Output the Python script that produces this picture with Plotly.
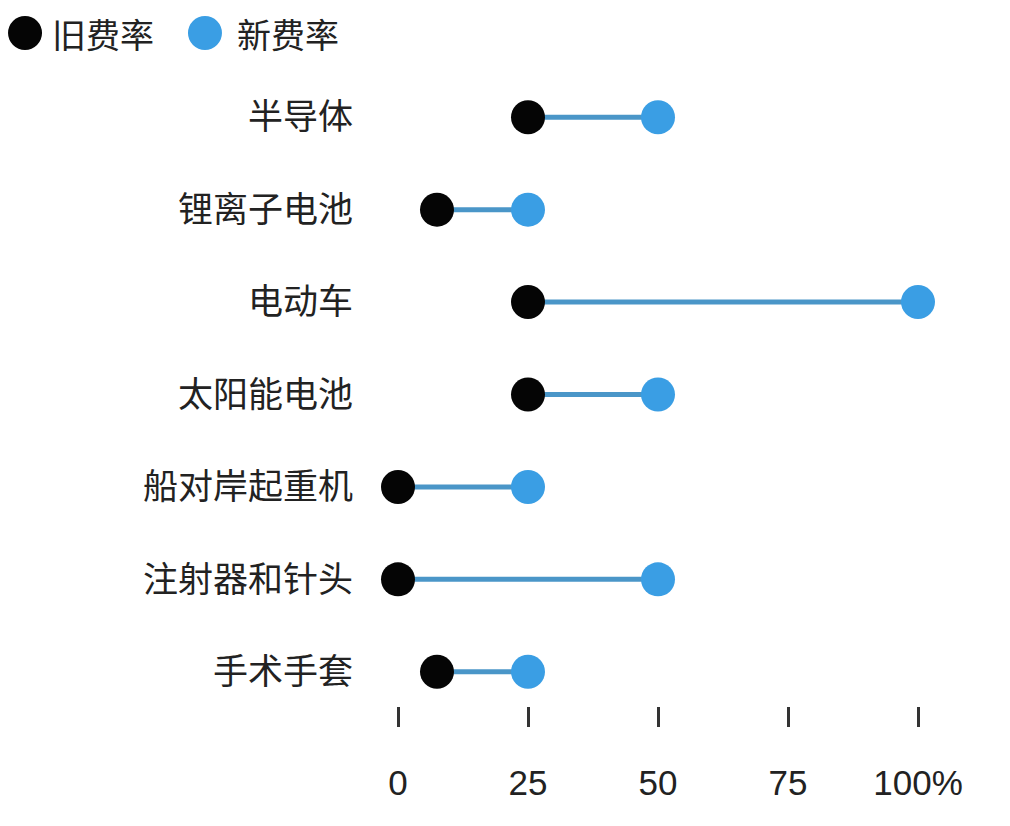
import plotly.graph_objects as go

# rows, top to bottom
categories = ["半导体", "锂离子电池", "电动车", "太阳能电池", "船对岸起重机", "注射器和针头", "手术手套"]
old_rate = [25, 7.5, 25, 25, 0, 0, 7.5]
new_rate = [50, 25, 100, 50, 25, 50, 25]
tick_vals = [0, 25, 50, 75, 100]
tick_text = ["0", "25", "50", "75", "100%"]
legend_names = ["旧费率", "新费率"]

BLACK = "#050505"
BLUE = "#3a9ee4"
LINE = "#4a96c8"
TEXT = "#222222"
FONT = "Noto Sans CJK SC"
NUM_FONT = "Liberation Sans"

y_pos = list(range(len(categories)))

# connector segments, separated by None
seg_x, seg_y = [], []
for y, a, b in zip(y_pos, old_rate, new_rate):
    seg_x += [a, b, None]
    seg_y += [y, y, None]

fig = go.Figure()
fig.add_trace(go.Scatter(
    x=seg_x, y=seg_y, mode="lines",
    line=dict(color=LINE, width=5),
    showlegend=False, hoverinfo="skip", cliponaxis=False,
))
fig.add_trace(go.Scatter(
    x=old_rate, y=y_pos, mode="markers", name=legend_names[0],
    marker=dict(color=BLACK, size=34), cliponaxis=False, showlegend=False,
))
fig.add_trace(go.Scatter(
    x=new_rate, y=y_pos, mode="markers", name=legend_names[1],
    marker=dict(color=BLUE, size=34), cliponaxis=False, showlegend=False,
))

# legend built by hand: big dot (pixel-sized circle) + label
legend_items = [
    (-0.6066, -0.5630, BLACK, legend_names[0]),
    (-0.2920, -0.2395, BLUE, legend_names[1]),
]
for dot_x, text_x, color, name in legend_items:
    fig.add_shape(
        type="circle", xref="paper", yref="paper",
        xsizemode="pixel", ysizemode="pixel", xanchor=dot_x, yanchor=1.0,
        x0=-17, x1=17, y0=21, y1=55,
        fillcolor=color, line=dict(width=0),
    )
    fig.add_annotation(
        text=name, xref="paper", yref="paper", x=text_x, y=1.0, yshift=38,
        xanchor="left", yanchor="middle", showarrow=False,
        font=dict(size=34, color=TEXT, family=FONT),
    )

fig.update_layout(
    width=1010, height=826,
    paper_bgcolor="white", plot_bgcolor="white",
    margin=dict(l=364, r=74, t=63, b=128),
    font=dict(family=FONT, color=TEXT),
    showlegend=False,
    xaxis=dict(
        range=[-5, 105], tickvals=tick_vals, ticktext=tick_text,
        showgrid=False, zeroline=False, showline=False,
        ticks="outside", ticklen=20, tickwidth=3, tickcolor="#333333",
        tickfont=dict(size=35, color=TEXT, family=NUM_FONT), ticklabelstandoff=26,
    ),
    yaxis=dict(
        range=[6.37, -0.5], tickvals=y_pos, ticktext=categories,
        showgrid=False, zeroline=False, showline=False,
        tickfont=dict(size=35, color=TEXT), ticklabelstandoff=18,
    ),
)

fig.write_html("out.html")
